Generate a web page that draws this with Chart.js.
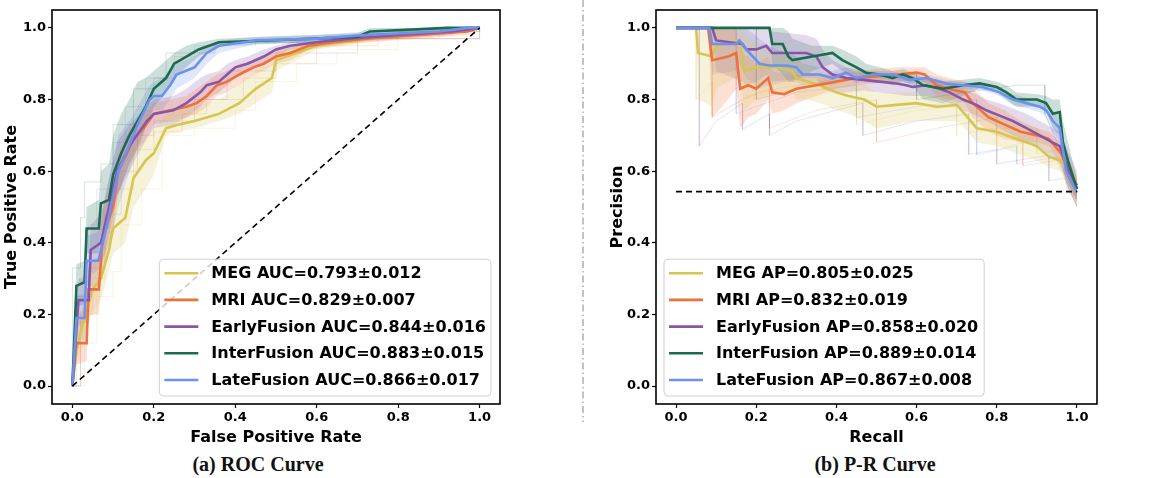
<!DOCTYPE html>
<html>
<head>
<meta charset="utf-8">
<script src="https://cdn.jsdelivr.net/npm/chart.js@4.4.1/dist/chart.umd.min.js"></script>
<style>
    body { margin: 0; background: #fff; width: 1169px; height: 478px; overflow: hidden; position: relative; }
    #rocBox { position: absolute; left: 0; top: 0; width: 520px; height: 450px; }
    #prBox { position: absolute; left: 600px; top: 0; width: 520px; height: 450px; }
    .cap { position: absolute; top: 453px; width: 240px; text-align: center; font-family: "Liberation Serif"; font-weight: bold; font-size: 20px; color: #111; }
    #sep { position: absolute; left: 578px; top: 0; }
</style>
</head>
<body>
<div id="rocBox"><canvas id="chartRoc" width="520" height="450"></canvas></div>
<div id="prBox"><canvas id="chartPr" width="520" height="450"></canvas></div>
<svg id="sep" width="10" height="430"><line x1="5" y1="0" x2="5" y2="422" stroke="#9a9a9a" stroke-width="1.2" stroke-dasharray="7 3 1.5 3"/></svg>
<div class="cap" style="left:138px">(a) ROC Curve</div>
<div class="cap" style="left:755px">(b) P-R Curve</div>
<script>
// Ejes
const axisTicks = [0.0, 0.2, 0.4, 0.6, 0.8, 1.0];

// Colores de cada modelo
const colores = {
    meg: '#d6c650',
    mri: '#f0703c',
    early: '#8856a8',
    inter: '#1b6b50',
    late: '#6e90ee'
};

// ---- ROC ----
const rocLabels = ['MEG AUC=0.793±0.012', 'MRI AUC=0.829±0.007', 'EarlyFusion AUC=0.844±0.016', 'InterFusion AUC=0.883±0.015', 'LateFusion AUC=0.866±0.017'];

const rocMegX = [0, 0.01, 0.02, 0.05, 0.07, 0.09, 0.1, 0.13, 0.15, 0.18, 0.2, 0.23, 0.26, 0.3, 0.36, 0.41, 0.45, 0.49, 0.5, 0.55, 0.6, 0.7, 0.8, 0.9, 1.0];
const rocMegMean = [0, 0.1, 0.15, 0.27, 0.3, 0.38, 0.44, 0.47, 0.58, 0.63, 0.65, 0.72, 0.73, 0.74, 0.76, 0.79, 0.83, 0.86, 0.91, 0.93, 0.95, 0.965, 0.98, 0.99, 1.0];
const rocMegUp = [0, 0.15, 0.2, 0.33, 0.38, 0.46, 0.52, 0.57, 0.66, 0.7, 0.72, 0.76, 0.77, 0.78, 0.8, 0.84, 0.88, 0.9, 0.93, 0.95, 0.96, 0.975, 0.99, 1.0, 1.0];
const rocMegLo = [0, 0.06, 0.1, 0.21, 0.24, 0.32, 0.37, 0.4, 0.5, 0.55, 0.59, 0.7, 0.71, 0.72, 0.74, 0.76, 0.79, 0.82, 0.88, 0.91, 0.94, 0.955, 0.97, 0.98, 1.0];

const rocMriX = [0, 0.01, 0.035, 0.04, 0.065, 0.075, 0.1, 0.113, 0.134, 0.15, 0.175, 0.2, 0.24, 0.28, 0.305, 0.33, 0.355, 0.38, 0.41, 0.445, 0.47, 0.5, 0.535, 0.58, 0.64, 0.72, 0.85, 0.97, 1.0];
const rocMriMean = [0, 0.12, 0.12, 0.27, 0.27, 0.42, 0.5, 0.6, 0.65, 0.69, 0.72, 0.76, 0.77, 0.78, 0.79, 0.81, 0.84, 0.85, 0.87, 0.89, 0.9, 0.92, 0.93, 0.95, 0.96, 0.97, 0.98, 0.99, 1.0];
const rocMriUp = [0, 0.2, 0.22, 0.35, 0.36, 0.5, 0.58, 0.65, 0.7, 0.73, 0.76, 0.79, 0.8, 0.81, 0.83, 0.85, 0.87, 0.88, 0.9, 0.91, 0.92, 0.94, 0.95, 0.96, 0.97, 0.98, 0.99, 1.0, 1.0];
const rocMriLo = [0, 0.06, 0.07, 0.2, 0.2, 0.35, 0.43, 0.54, 0.6, 0.65, 0.68, 0.73, 0.74, 0.75, 0.76, 0.78, 0.81, 0.82, 0.84, 0.87, 0.88, 0.9, 0.91, 0.94, 0.95, 0.96, 0.97, 0.98, 1.0];

const rocEarlyX = [0, 0.015, 0.04, 0.045, 0.07, 0.09, 0.11, 0.14, 0.158, 0.183, 0.2, 0.248, 0.28, 0.314, 0.33, 0.36, 0.38, 0.4, 0.43, 0.47, 0.5, 0.535, 0.6, 0.68, 0.8, 0.93, 1.0];
const rocEarlyMean = [0, 0.24, 0.24, 0.38, 0.4, 0.5, 0.6, 0.67, 0.7, 0.74, 0.76, 0.77, 0.79, 0.82, 0.84, 0.85, 0.87, 0.89, 0.9, 0.92, 0.94, 0.95, 0.96, 0.97, 0.98, 0.99, 1.0];
const rocEarlyUp = [0, 0.3, 0.31, 0.45, 0.48, 0.58, 0.68, 0.73, 0.75, 0.78, 0.8, 0.81, 0.83, 0.86, 0.87, 0.88, 0.9, 0.91, 0.92, 0.94, 0.95, 0.96, 0.97, 0.98, 0.99, 1.0, 1.0];
const rocEarlyLo = [0, 0.17, 0.18, 0.31, 0.33, 0.42, 0.53, 0.6, 0.64, 0.69, 0.72, 0.73, 0.75, 0.78, 0.8, 0.82, 0.84, 0.86, 0.88, 0.9, 0.92, 0.94, 0.95, 0.96, 0.97, 0.98, 1.0];

const rocInterX = [0, 0.01, 0.03, 0.035, 0.065, 0.07, 0.09, 0.1, 0.12, 0.14, 0.16, 0.18, 0.2, 0.23, 0.25, 0.28, 0.31, 0.36, 0.48, 0.7, 0.73, 0.92, 1.0];
const rocInterMean = [0, 0.28, 0.29, 0.44, 0.44, 0.51, 0.52, 0.59, 0.65, 0.7, 0.74, 0.78, 0.83, 0.86, 0.9, 0.92, 0.94, 0.96, 0.965, 0.975, 0.99, 1.0, 1.0];
const rocInterUp = [0, 0.34, 0.35, 0.5, 0.52, 0.6, 0.62, 0.7, 0.76, 0.8, 0.85, 0.86, 0.88, 0.91, 0.93, 0.95, 0.96, 0.97, 0.975, 0.985, 1.0, 1.0, 1.0];
const rocInterLo = [0, 0.22, 0.23, 0.37, 0.37, 0.43, 0.44, 0.5, 0.56, 0.62, 0.66, 0.72, 0.78, 0.82, 0.86, 0.89, 0.92, 0.95, 0.955, 0.965, 0.98, 0.99, 1.0];

const rocLateX = [0, 0.01, 0.03, 0.035, 0.064, 0.085, 0.113, 0.146, 0.16, 0.19, 0.2, 0.22, 0.24, 0.256, 0.3, 0.33, 0.36, 0.45, 0.6, 0.72, 0.9, 0.97, 1.0];
const rocLateMean = [0, 0.19, 0.19, 0.35, 0.35, 0.45, 0.6, 0.69, 0.73, 0.8, 0.81, 0.81, 0.84, 0.87, 0.89, 0.93, 0.95, 0.965, 0.97, 0.98, 0.99, 1.0, 1.0];
const rocLateUp = [0, 0.25, 0.26, 0.42, 0.43, 0.55, 0.7, 0.75, 0.78, 0.84, 0.85, 0.86, 0.88, 0.9, 0.92, 0.95, 0.965, 0.975, 0.98, 0.99, 1.0, 1.0, 1.0];
const rocLateLo = [0, 0.13, 0.13, 0.28, 0.28, 0.36, 0.5, 0.62, 0.67, 0.75, 0.77, 0.77, 0.8, 0.83, 0.86, 0.9, 0.93, 0.955, 0.96, 0.97, 0.98, 0.99, 1.0];

// curvas individuales (folds), muy tenues
const rocFoldInterX = [0, 0, 0.02, 0.03, 0.07, 0.1, 0.15, 0.2, 0.23, 0.35, 0.7, 0.8, 1.0];
const rocFoldInterY = [0, 0.33, 0.47, 0.57, 0.62, 0.73, 0.83, 0.86, 0.93, 0.96, 0.97, 0.99, 1.0];
const rocFoldMriX = [0, 0.02, 0.05, 0.08, 0.1, 0.15, 0.2, 0.27, 0.33, 0.42, 0.5, 0.6, 0.75, 1.0];
const rocFoldMriY = [0, 0.2, 0.3, 0.43, 0.55, 0.66, 0.71, 0.76, 0.8, 0.86, 0.9, 0.95, 0.97, 1.0];
const rocFoldMegX = [0, 0.03, 0.06, 0.1, 0.12, 0.17, 0.22, 0.3, 0.4, 0.45, 0.55, 0.65, 0.8, 1.0];
const rocFoldMegY = [0, 0.12, 0.25, 0.32, 0.45, 0.55, 0.7, 0.72, 0.77, 0.85, 0.9, 0.94, 0.97, 1.0];
const rocFoldLateX = [0, 0.01, 0.04, 0.06, 0.1, 0.13, 0.18, 0.25, 0.3, 0.45, 0.9, 1.0];
const rocFoldLateY = [0, 0.25, 0.45, 0.55, 0.68, 0.78, 0.86, 0.92, 0.95, 0.97, 0.99, 1.0];
const rocFoldEarlyX = [0, 0.02, 0.04, 0.08, 0.12, 0.16, 0.2, 0.3, 0.38, 0.5, 0.7, 1.0];
const rocFoldEarlyY = [0, 0.18, 0.33, 0.48, 0.6, 0.7, 0.74, 0.8, 0.88, 0.93, 0.97, 1.0];

const rocChanceX = [0, 1];
const rocChanceY = [0, 1];

// ---- P-R ----
const prLabels = ['MEG AP=0.805±0.025', 'MRI AP=0.832±0.019', 'EarlyFusion AP=0.858±0.020', 'InterFusion AP=0.889±0.014', 'LateFusion AP=0.867±0.008'];

const prMegX = [0, 0.05, 0.055, 0.09, 0.1, 0.16, 0.17, 0.2, 0.25, 0.29, 0.3, 0.33, 0.36, 0.4, 0.43, 0.47, 0.5, 0.55, 0.6, 0.65, 0.7, 0.72, 0.75, 0.8, 0.85, 0.9, 0.93, 0.96, 0.98, 1.0];
const prMegMean = [1.0, 1.0, 0.93, 0.92, 0.95, 0.965, 0.88, 0.89, 0.89, 0.88, 0.86, 0.85, 0.84, 0.82, 0.81, 0.8, 0.78, 0.785, 0.79, 0.78, 0.785, 0.76, 0.72, 0.71, 0.69, 0.67, 0.64, 0.63, 0.59, 0.55];
const prMegUp = [1, 1, 1, 1, 1, 1, 0.99, 0.96, 0.93, 0.92, 0.91, 0.89, 0.88, 0.86, 0.85, 0.84, 0.82, 0.82, 0.82, 0.81, 0.81, 0.8, 0.77, 0.76, 0.74, 0.72, 0.69, 0.67, 0.63, 0.58];
const prMegLo = [1, 1, 0.8, 0.78, 0.83, 0.87, 0.77, 0.8, 0.82, 0.82, 0.8, 0.8, 0.79, 0.77, 0.76, 0.74, 0.72, 0.73, 0.74, 0.74, 0.74, 0.72, 0.68, 0.67, 0.65, 0.63, 0.61, 0.6, 0.55, 0.5];

const prMriX = [0, 0.08, 0.09, 0.13, 0.15, 0.16, 0.18, 0.2, 0.23, 0.24, 0.27, 0.3, 0.35, 0.4, 0.45, 0.5, 0.55, 0.6, 0.62, 0.65, 0.68, 0.72, 0.74, 0.78, 0.82, 0.86, 0.9, 0.93, 0.96, 0.98, 1.0];
const prMriMean = [1, 1, 0.91, 0.92, 0.93, 0.83, 0.84, 0.83, 0.86, 0.82, 0.815, 0.83, 0.84, 0.85, 0.86, 0.865, 0.87, 0.875, 0.87, 0.84, 0.83, 0.82, 0.79, 0.75, 0.73, 0.71, 0.7, 0.69, 0.65, 0.6, 0.55];
const prMriUp = [1, 1, 1, 1, 1, 0.93, 0.92, 0.9, 0.92, 0.88, 0.87, 0.87, 0.87, 0.875, 0.88, 0.885, 0.89, 0.89, 0.89, 0.87, 0.86, 0.85, 0.83, 0.79, 0.77, 0.74, 0.72, 0.71, 0.68, 0.63, 0.58];
const prMriLo = [1, 1, 0.75, 0.8, 0.83, 0.72, 0.75, 0.76, 0.8, 0.76, 0.77, 0.79, 0.81, 0.83, 0.84, 0.845, 0.85, 0.86, 0.85, 0.81, 0.8, 0.79, 0.75, 0.71, 0.69, 0.68, 0.68, 0.67, 0.62, 0.56, 0.51];

const prEarlyX = [0, 0.09, 0.1, 0.166, 0.175, 0.2, 0.225, 0.24, 0.325, 0.35, 0.366, 0.39, 0.424, 0.466, 0.507, 0.55, 0.574, 0.59, 0.624, 0.657, 0.682, 0.716, 0.749, 0.774, 0.807, 0.84, 0.874, 0.907, 0.94, 0.957, 0.98, 1.0];
const prEarlyMean = [1, 1, 0.965, 0.955, 0.94, 0.94, 0.95, 0.93, 0.93, 0.92, 0.89, 0.87, 0.86, 0.855, 0.85, 0.845, 0.84, 0.835, 0.84, 0.83, 0.82, 0.8, 0.785, 0.77, 0.755, 0.74, 0.72, 0.7, 0.68, 0.67, 0.6, 0.56];
const prEarlyUp = [1, 1, 1, 1, 1, 1, 1, 0.99, 0.98, 0.97, 0.94, 0.91, 0.89, 0.88, 0.875, 0.87, 0.865, 0.86, 0.86, 0.855, 0.845, 0.83, 0.815, 0.8, 0.79, 0.775, 0.76, 0.74, 0.72, 0.71, 0.65, 0.6];
const prEarlyLo = [1, 1, 0.88, 0.85, 0.84, 0.85, 0.87, 0.85, 0.86, 0.86, 0.83, 0.82, 0.82, 0.825, 0.82, 0.815, 0.81, 0.81, 0.81, 0.8, 0.79, 0.77, 0.755, 0.74, 0.72, 0.7, 0.68, 0.66, 0.64, 0.62, 0.55, 0.5];

const prInterX = [0, 0.233, 0.24, 0.266, 0.28, 0.29, 0.34, 0.39, 0.415, 0.45, 0.474, 0.507, 0.54, 0.566, 0.59, 0.616, 0.666, 0.716, 0.757, 0.8, 0.824, 0.849, 0.9, 0.923, 0.94, 0.957, 0.965, 0.98, 1.0];
const prInterMean = [1, 1, 0.955, 0.955, 0.92, 0.91, 0.92, 0.93, 0.91, 0.89, 0.875, 0.87, 0.86, 0.87, 0.86, 0.84, 0.83, 0.84, 0.845, 0.835, 0.82, 0.8, 0.8, 0.79, 0.76, 0.765, 0.68, 0.62, 0.55];
const prInterUp = [1, 1, 1, 1, 0.99, 0.97, 0.95, 0.95, 0.94, 0.92, 0.9, 0.89, 0.88, 0.885, 0.875, 0.86, 0.85, 0.855, 0.86, 0.85, 0.84, 0.82, 0.815, 0.81, 0.8, 0.8, 0.74, 0.67, 0.58];
const prInterLo = [1, 1, 0.9, 0.87, 0.85, 0.85, 0.88, 0.9, 0.88, 0.86, 0.85, 0.85, 0.84, 0.85, 0.84, 0.8, 0.79, 0.81, 0.83, 0.82, 0.8, 0.78, 0.78, 0.77, 0.72, 0.7, 0.6, 0.56, 0.52];

const prLateX = [0, 0.083, 0.09, 0.15, 0.158, 0.175, 0.208, 0.233, 0.275, 0.3, 0.316, 0.358, 0.39, 0.424, 0.45, 0.49, 0.54, 0.582, 0.624, 0.674, 0.715, 0.765, 0.807, 0.84, 0.874, 0.907, 0.923, 0.94, 0.957, 0.973, 0.986, 1.0];
const prLateMean = [1, 1, 0.955, 0.955, 0.965, 0.94, 0.9, 0.895, 0.895, 0.89, 0.87, 0.87, 0.86, 0.875, 0.86, 0.87, 0.87, 0.855, 0.86, 0.845, 0.84, 0.835, 0.82, 0.8, 0.79, 0.78, 0.77, 0.74, 0.72, 0.6, 0.57, 0.54];
const prLateUp = [1, 1, 1, 1, 1, 1, 0.97, 0.95, 0.93, 0.92, 0.9, 0.89, 0.88, 0.89, 0.875, 0.88, 0.88, 0.865, 0.87, 0.855, 0.85, 0.845, 0.83, 0.815, 0.805, 0.795, 0.79, 0.77, 0.75, 0.66, 0.6, 0.56];
const prLateLo = [1, 1, 0.87, 0.88, 0.9, 0.86, 0.83, 0.84, 0.85, 0.85, 0.84, 0.845, 0.84, 0.86, 0.845, 0.86, 0.86, 0.845, 0.85, 0.835, 0.83, 0.825, 0.81, 0.785, 0.775, 0.765, 0.75, 0.71, 0.68, 0.55, 0.53, 0.52];

// folds P-R, muy tenues
const prFoldEarlyX = [0, 0.058, 0.058, 0.1, 0.166, 0.166, 0.233, 0.233, 0.3, 0.4, 0.466, 0.466, 0.6, 0.73, 0.73, 0.8, 0.8, 0.93, 0.93, 0.97, 1.0];
const prFoldEarlyY = [1, 1, 0.67, 0.74, 0.79, 0.717, 0.76, 0.7, 0.74, 0.77, 0.79, 0.7, 0.74, 0.76, 0.647, 0.66, 0.62, 0.645, 0.573, 0.58, 0.5];
const prFoldMriX = [0, 0.09, 0.09, 0.166, 0.233, 0.233, 0.35, 0.5, 0.5, 0.65, 0.8, 0.8, 0.865, 0.865, 0.95, 1.0];
const prFoldMriY = [1, 1, 0.75, 0.8, 0.83, 0.72, 0.77, 0.8, 0.68, 0.72, 0.75, 0.66, 0.68, 0.615, 0.63, 0.5];
const prFoldMegX = [0, 0.05, 0.05, 0.09, 0.09, 0.2, 0.3, 0.4, 0.45, 0.45, 0.6, 0.7, 0.7, 0.8, 0.9, 0.9, 0.97, 1.0];
const prFoldMegY = [1, 1, 0.8, 0.85, 0.754, 0.82, 0.84, 0.85, 0.86, 0.73, 0.77, 0.78, 0.7, 0.72, 0.72, 0.65, 0.66, 0.53];
const prFoldLateX = [0, 0.15, 0.15, 0.3, 0.45, 0.45, 0.6, 0.75, 0.75, 0.85, 0.85, 0.95, 1.0];
const prFoldLateY = [1, 1, 0.76, 0.82, 0.84, 0.75, 0.78, 0.8, 0.645, 0.67, 0.62, 0.64, 0.52];
const prFoldInterX = [0, 0.2, 0.2, 0.4, 0.6, 0.6, 0.85, 0.92, 0.92, 1.0];
const prFoldInterY = [1, 1, 0.8, 0.86, 0.87, 0.8, 0.84, 0.84, 0.76, 0.55];

const prBaseX = [0, 1];
const prBaseY = [0.543, 0.543];

// Juntar x e y en puntos
function puntos(xs, ys) {
    return xs.map((x, i) => ({ x: x, y: ys[i] }));
}

// Curva media + banda de desviación
function serie(label, color, xs, mean, up, lo, k) {
    return [
        { data: puntos(xs, up), borderWidth: 0, pointRadius: 0, fill: '+1', backgroundColor: color + '38', order: 20 + k },
        { data: puntos(xs, lo), borderWidth: 0, pointRadius: 0, fill: false, order: 20 + k },
        { label: label, inLegend: true, data: puntos(xs, mean), borderColor: color, borderWidth: 2.6, pointRadius: 0, fill: false, order: 10 - k }
    ];
}

// Fold individual
function fold(color, xs, ys, escalon) {
    return { data: puntos(xs, ys), borderColor: color + '2e', borderWidth: 1, pointRadius: 0, fill: false, stepped: escalon, order: 40 };
}

// Marco completo alrededor del área (estilo matplotlib)
const marco = {
    id: 'marco',
    afterDatasetsDraw(chart) {
        const { ctx, chartArea } = chart;
        ctx.save();
        ctx.strokeStyle = '#000';
        ctx.lineWidth = 1.6;
        ctx.strokeRect(chartArea.left, chartArea.top, chartArea.right - chartArea.left, chartArea.bottom - chartArea.top);
        ctx.restore();
    }
};

// Leyenda dentro del área del gráfico
const leyenda = {
    id: 'leyenda',
    afterDraw(chart, args, opts) {
        const { ctx, chartArea } = chart;
        const items = chart.data.datasets.filter(d => d.inLegend);
        ctx.save();
        ctx.font = 'bold 16px "DejaVu Sans"';
        const textW = Math.max(...items.map(d => ctx.measureText(d.label).width));
        const rowH = 26.7;
        const w = 52 + textW + opts.padRight;
        const h = 30 + (items.length - 1) * rowH;
        const x = opts.side === 'right' ? chartArea.right - 9 - w : chartArea.left + 8;
        const y = chartArea.bottom - 8 - h;
        ctx.beginPath();
        ctx.roundRect(x, y, w, h, 4);
        ctx.fillStyle = 'rgba(255,255,255,0.8)';
        ctx.fill();
        ctx.strokeStyle = '#d0d0d0';
        ctx.lineWidth = 1;
        ctx.stroke();
        items.forEach((d, i) => {
            const cy = y + 14 + i * rowH;
            ctx.beginPath();
            ctx.moveTo(x + 5, cy);
            ctx.lineTo(x + 39, cy);
            ctx.strokeStyle = d.borderColor;
            ctx.lineWidth = 2.6;
            ctx.stroke();
            ctx.fillStyle = '#000';
            ctx.textBaseline = 'middle';
            ctx.fillText(d.label, x + 52, cy + 1);
        });
        ctx.restore();
    }
};

function opcionesEje(titulo, titlePad, tamano, horizontal) {
    return {
        type: 'linear',
        min: -0.05,
        max: 1.05,
        afterBuildTicks: s => { s.ticks = axisTicks.map(v => ({ value: v })); },
        afterFit: s => { if (horizontal) { s.height = tamano; } else { s.width = tamano; } },
        ticks: {
            color: '#000',
            padding: 2,
            font: { family: 'DejaVu Sans', size: 13, weight: 'bold' },
            callback: v => v.toFixed(1)
        },
        grid: { display: true, drawOnChartArea: false, drawTicks: true, tickLength: 4, color: '#000', tickWidth: 1.2 },
        border: { display: false },
        title: {
            display: true,
            text: titulo,
            color: '#000',
            padding: titlePad,
            font: { family: 'DejaVu Sans', size: 16, weight: 'bold' }
        }
    };
}

function crearGrafico(id, datasets, xTitle, yTitle, yWidth, padding, side, padRight) {
    return new Chart(document.getElementById(id), {
        type: 'line',
        data: { datasets: datasets },
        options: {
            responsive: false,
            animation: false,
            layout: { padding: padding },
            plugins: {
                legend: { display: false },
                tooltip: { enabled: false },
                leyenda: { side: side, padRight: padRight }
            },
            scales: {
                x: opcionesEje(xTitle, { top: 0, bottom: 3 }, 46, true),
                y: opcionesEje(yTitle, { top: 2, bottom: 0 }, yWidth, false)
            }
        },
        plugins: [marco, leyenda]
    });
}

document.addEventListener('DOMContentLoaded', function () {
    const rocSets = [].concat(
        serie(rocLabels[0], colores.meg, rocMegX, rocMegMean, rocMegUp, rocMegLo, 0),
        serie(rocLabels[1], colores.mri, rocMriX, rocMriMean, rocMriUp, rocMriLo, 1),
        serie(rocLabels[2], colores.early, rocEarlyX, rocEarlyMean, rocEarlyUp, rocEarlyLo, 2),
        serie(rocLabels[3], colores.inter, rocInterX, rocInterMean, rocInterUp, rocInterLo, 3),
        serie(rocLabels[4], colores.late, rocLateX, rocLateMean, rocLateUp, rocLateLo, 4),
        [
            fold(colores.inter, rocFoldInterX, rocFoldInterY, 'before'),
            fold(colores.mri, rocFoldMriX, rocFoldMriY, 'before'),
            fold(colores.meg, rocFoldMegX, rocFoldMegY, 'before'),
            fold(colores.late, rocFoldLateX, rocFoldLateY, 'before'),
            fold(colores.early, rocFoldEarlyX, rocFoldEarlyY, 'before'),
            { data: puntos(rocChanceX, rocChanceY), borderColor: '#000', borderWidth: 1.6, borderDash: [6, 4], pointRadius: 0, fill: false, order: 0 }
        ]
    );
    const prSets = [].concat(
        serie(prLabels[0], colores.meg, prMegX, prMegMean, prMegUp, prMegLo, 0),
        serie(prLabels[1], colores.mri, prMriX, prMriMean, prMriUp, prMriLo, 1),
        serie(prLabels[2], colores.early, prEarlyX, prEarlyMean, prEarlyUp, prEarlyLo, 2),
        serie(prLabels[3], colores.inter, prInterX, prInterMean, prInterUp, prInterLo, 3),
        serie(prLabels[4], colores.late, prLateX, prLateMean, prLateUp, prLateLo, 4),
        [
            fold(colores.early, prFoldEarlyX, prFoldEarlyY, false),
            fold(colores.mri, prFoldMriX, prFoldMriY, false),
            fold(colores.meg, prFoldMegX, prFoldMegY, false),
            fold(colores.late, prFoldLateX, prFoldLateY, false),
            fold(colores.inter, prFoldInterX, prFoldInterY, false),
            { data: puntos(prBaseX, prBaseY), borderColor: '#000', borderWidth: 1.6, borderDash: [6, 4], pointRadius: 0, fill: false, order: 0 }
        ]
    );

    crearGrafico('chartRoc', rocSets, 'False Positive Rate', 'True Positive Rate', 52, { left: 0, top: 10, right: 20, bottom: 0 }, 'right', 5);
    crearGrafico('chartPr', prSets, 'Recall', 'Precision', 50, { left: 6, top: 10, right: 23, bottom: 0 }, 'left', 6);
});
</script>
</body>
</html>
